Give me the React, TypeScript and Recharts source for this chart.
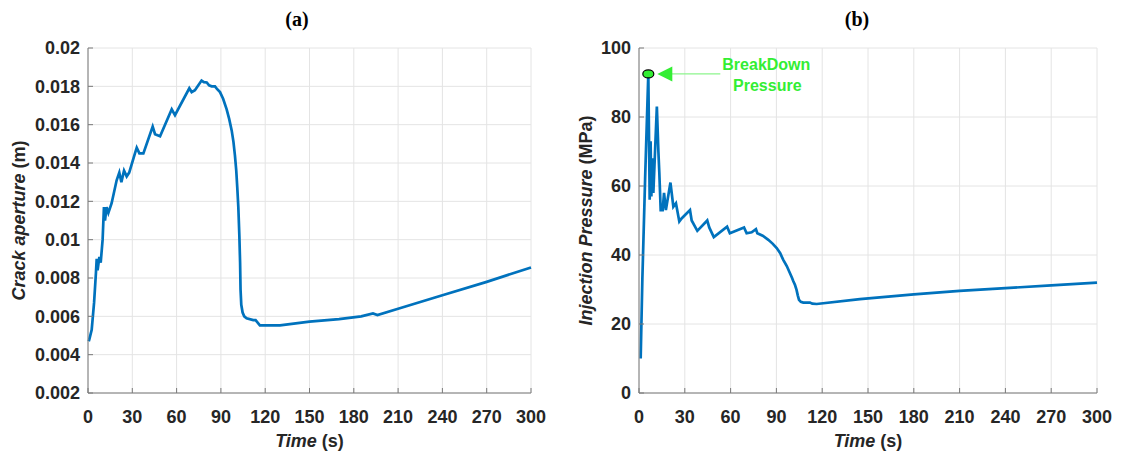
import React from 'react';
import { LineChart, Line, XAxis, YAxis, CartesianGrid, Label, ReferenceDot } from 'recharts';

// Time axis shared by both panels
const timeTicks = [0, 30, 60, 90, 120, 150, 180, 210, 240, 270, 300];
const apertureTicks = [0.002, 0.004, 0.006, 0.008, 0.01, 0.012, 0.014, 0.016, 0.018, 0.02];
const pressureTicks = [0, 20, 40, 60, 80, 100];

// (a) crack aperture vs time
const timeA = [
  0.5, 0.9, 2.5, 4.1, 5.4, 5.9, 6.5, 7.7, 8.6, 9.9, 10.8, 11.5, 12.6, 13.8, 16.0, 19.4, 21.2, 22.6, 24.4,
  26.2, 27.9, 31.8, 33.0, 34.8, 37.5, 43.8, 45.4, 48.8, 56.7, 58.9, 68.6, 70.2, 72.4, 76.9, 78.5, 80.4,
  82.0, 83.7, 86.0, 87.5, 89.4, 91.5, 93.9, 95.6, 97.3, 98.5, 99.5, 100.4, 101.1, 101.8, 102.5, 103.0,
  103.3, 103.8, 104.7, 105.8, 107.4, 111.9, 113.5, 116.4, 130, 150, 170, 185, 193, 196, 210, 240, 270, 300,
];
const apertureA = [
  0.0047, 0.0048, 0.0053, 0.0067, 0.0083, 0.009, 0.0084, 0.0091, 0.0088, 0.01, 0.0117, 0.011, 0.0117,
  0.0114, 0.0119, 0.0131, 0.0135, 0.013, 0.0136, 0.0133, 0.0135, 0.0145, 0.0148, 0.0145, 0.0145, 0.0159,
  0.0155, 0.0154, 0.0168, 0.0165, 0.0179, 0.0177, 0.0178, 0.0183, 0.01822, 0.0182, 0.01805, 0.018,
  0.018, 0.01785, 0.0177, 0.01735, 0.0168, 0.0163, 0.0157, 0.0151, 0.0144, 0.0136, 0.0127, 0.0117,
  0.0102, 0.0088, 0.0074, 0.0066, 0.0062, 0.006, 0.0059, 0.0058, 0.0058, 0.00553, 0.00553, 0.00572,
  0.00585, 0.006, 0.00615, 0.00607, 0.0064, 0.0071, 0.0078, 0.00855,
];

// (b) injection pressure vs time
const timeB = [
  1.1, 2.2, 4.0, 6.1, 7.0, 7.6, 8.1, 8.6, 9.4, 11.7, 12.7, 13.3, 14.2, 15.5, 16.4, 17.6, 20.6, 22.5, 24.2,
  26.4, 27.9, 33.4, 34.5, 38.2, 44.7, 46.0, 49.0, 57.7, 59.5, 68.8, 70.5, 73.8, 76.6, 77.5, 81.0, 84.7,
  87.5, 90.2, 92.5, 94.5, 96.8, 98.9, 100.2, 101.1, 102.2, 103.2, 104.0, 104.8, 106.0, 107.6, 112, 113.5,
  116.4, 144.7, 180, 210, 240, 270, 300,
];
const pressureB = [
  10, 33, 62, 92.5, 56, 73, 57, 68, 58, 83, 70, 64, 53, 53, 58, 53, 61, 54, 55, 49.7, 50.6, 53, 50, 47,
  50, 48, 45.2, 48.2, 46.3, 48, 46.3, 46.6, 47.5, 46.3, 45.6, 44.4, 43.3, 42, 40.5, 38.6, 36.8, 34.7,
  33.4, 32.4, 31.3, 29.9, 28.3, 27, 26.4, 26.2, 26.2, 25.9, 25.8, 27.2, 28.6, 29.6, 30.4, 31.2, 32,
];

const breakdown = { t: 6.1, p: 92.5 };

const dataA = timeA.map((t, i) => ({ t, v: apertureA[i] }));
const dataB = timeB.map((t, i) => ({ t, v: pressureB[i] }));

const FONT = '"Liberation Sans", Arial, sans-serif';
const TEXT = '#262626';
const FRAME = '#7a7a7a';
const BLUE = '#0072BD';
const GREEN = '#33ee33';

const tickStyle = { fontFamily: FONT, fontSize: 18, fontWeight: 700, fill: TEXT };

const fmtAperture = (v: number) => String(Number(v.toFixed(3)));

function XTitle(props: any) {
  const { x, y, width } = props.viewBox;
  return (
    <text x={x + width / 2} y={y + 54} textAnchor="middle" style={tickStyle}>
      <tspan fontStyle="italic">Time</tspan>
      <tspan> (s)</tspan>
    </text>
  );
}

function YTitle(props: any) {
  const { x, y, height } = props.viewBox;
  const cx = x + props.dx;
  const cy = y + height / 2;
  return (
    <text
      x={cx}
      y={cy}
      transform={`rotate(-90, ${cx}, ${cy})`}
      textAnchor="middle"
      dominantBaseline="central"
      style={tickStyle}
    >
      <tspan fontStyle="italic">{props.main}</tspan>
      <tspan> {props.unit}</tspan>
    </text>
  );
}

// circle marker + arrow + text, laid out around the dot position
function BreakdownMark(props: any) {
  const { cx, cy } = props;
  return (
    <g>
      <line x1={cx + 23} y1={cy} x2={cx + 72} y2={cy} stroke="#8cf58c" strokeWidth={1.2} />
      <polygon points={`${cx + 9},${cy} ${cx + 24},${cy - 7.5} ${cx + 24},${cy + 7.5}`} fill={GREEN} />
      <ellipse cx={cx} cy={cy} rx={5.5} ry={4} fill={GREEN} stroke="#000" strokeWidth={1.2} />
      <text x={cx + 118} y={cy - 4} textAnchor="middle" fontFamily={FONT} fontWeight={700} fontSize={16} fill={GREEN}>
        BreakDown
      </text>
      <text x={cx + 119} y={cy + 17} textAnchor="middle" fontFamily={FONT} fontWeight={700} fontSize={16} fill={GREEN}>
        Pressure
      </text>
    </g>
  );
}

const panelTitle: React.CSSProperties = {
  position: 'absolute',
  top: 8,
  fontFamily: '"Liberation Serif", "Times New Roman", serif',
  fontWeight: 700,
  fontSize: 20,
  color: '#000',
  transform: 'translateX(-50%)',
};

export default function App() {
  return (
    <div style={{ position: 'absolute', left: 0, top: 0, width: 1123, height: 453, background: '#fff' }}>
      <div style={{ ...panelTitle, left: 297 }}>(a)</div>
      <div style={{ ...panelTitle, left: 857 }}>(b)</div>

      <div style={{ position: 'absolute', left: 0, top: 0 }}>
        <LineChart width={561} height={453} data={dataA} margin={{ top: 48, right: 30, bottom: 0, left: 0 }}>
          <CartesianGrid stroke="#e4e4e4" />
          <XAxis
            dataKey="t"
            type="number"
            domain={[0, 300]}
            ticks={timeTicks}
            interval={0}
            height={60}
            tickSize={-5}
            tickMargin={22}
            stroke={FRAME}
            tick={tickStyle}
          >
            <Label content={<XTitle />} />
          </XAxis>
          <XAxis xAxisId="top" orientation="top" type="number" domain={[0, 300]} ticks={timeTicks} height={0} mirror tick={false} tickSize={5} stroke={FRAME} />
          <YAxis
            type="number"
            domain={[0.002, 0.02]}
            ticks={apertureTicks}
            interval={0}
            width={88}
            tickSize={-5}
            tickMargin={13}
            tickFormatter={fmtAperture}
            stroke={FRAME}
            tick={tickStyle}
          >
            <Label content={<YTitle dx={19} main="Crack aperture" unit="(m)" />} />
          </YAxis>
          <YAxis yAxisId="right" orientation="right" type="number" domain={[0.002, 0.02]} ticks={apertureTicks} width={0} mirror tick={false} tickSize={5} stroke={FRAME} />
          <Line type="linear" dataKey="v" stroke={BLUE} strokeWidth={2.7} dot={false} isAnimationActive={false} />
        </LineChart>
      </div>

      <div style={{ position: 'absolute', left: 561, top: 0 }}>
        <LineChart width={562} height={453} data={dataB} margin={{ top: 48, right: 26, bottom: 0, left: 0 }}>
          <CartesianGrid stroke="#e4e4e4" />
          <XAxis
            dataKey="t"
            type="number"
            domain={[0, 300]}
            ticks={timeTicks}
            interval={0}
            height={60}
            tickSize={-5}
            tickMargin={22}
            stroke={FRAME}
            tick={tickStyle}
          >
            <Label content={<XTitle />} />
          </XAxis>
          <XAxis xAxisId="top" orientation="top" type="number" domain={[0, 300]} ticks={timeTicks} height={0} mirror tick={false} tickSize={5} stroke={FRAME} />
          <YAxis
            type="number"
            domain={[0, 100]}
            ticks={pressureTicks}
            interval={0}
            width={78}
            tickSize={-5}
            tickMargin={13}
            stroke={FRAME}
            tick={tickStyle}
          >
            <Label content={<YTitle dx={25} main="Injection Pressure" unit="(MPa)" />} />
          </YAxis>
          <YAxis yAxisId="right" orientation="right" type="number" domain={[0, 100]} ticks={pressureTicks} width={0} mirror tick={false} tickSize={5} stroke={FRAME} />
          <Line type="linear" dataKey="v" stroke={BLUE} strokeWidth={2.7} dot={false} isAnimationActive={false} />
          <ReferenceDot x={breakdown.t} y={breakdown.p} r={5} shape={<BreakdownMark />} />
        </LineChart>
      </div>
    </div>
  );
}
